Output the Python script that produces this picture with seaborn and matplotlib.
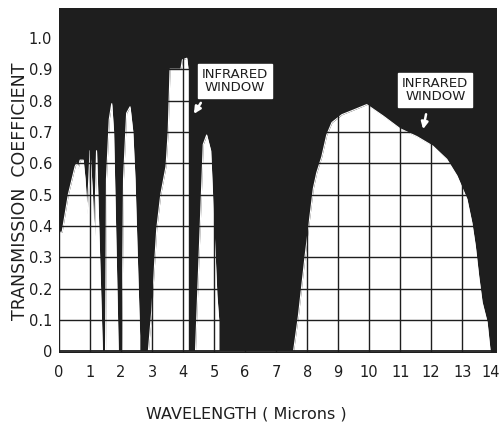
import matplotlib
matplotlib.use("Agg")
import matplotlib.pyplot as plt
import matplotlib.transforms as mtransforms
import seaborn as sns
import pandas as pd

# Traced transmission curve (wavelength in microns, transmission coefficient)
wavelength = [0.0, 0.1, 0.3, 0.52, 0.57, 0.62, 0.68, 0.78, 0.84, 0.91,
              1.0, 1.08, 1.14, 1.21, 1.40, 1.50, 1.53, 1.62, 1.70, 1.76,
              1.91, 2.02, 2.08, 2.18, 2.29, 2.38, 2.45, 2.60, 2.60,
              2.88, 2.99, 3.15, 3.28, 3.45, 3.52, 3.58, 3.93, 3.98, 4.12,
              4.16, 4.16, 4.40, 4.65, 4.76, 4.89, 5.09, 5.15, 5.15,
              7.56, 7.72, 7.94, 8.20, 8.31, 8.47, 8.63, 8.80, 9.12, 9.50,
              9.92, 10.46, 11.0, 11.54, 12.05, 12.50, 12.83, 13.15, 13.31,
              13.42, 13.53, 13.64, 13.80, 13.90]
transmission = [0.38, 0.38, 0.50, 0.59, 0.60, 0.585, 0.61, 0.61, 0.55, 0.44,
                0.64, 0.50, 0.35, 0.64, 0.0, 0.0, 0.55, 0.74, 0.79, 0.70,
                0.0, 0.0, 0.55, 0.76, 0.78, 0.70, 0.55, 0.05, 0.0,
                0.0, 0.13, 0.39, 0.50, 0.59, 0.70, 0.90, 0.90, 0.93, 0.935,
                0.90, 0.0, 0.0, 0.66, 0.69, 0.64, 0.18, 0.10, 0.0,
                0.0, 0.115, 0.31, 0.52, 0.57, 0.62, 0.69, 0.73, 0.755, 0.77,
                0.787, 0.75, 0.71, 0.685, 0.655, 0.613, 0.56, 0.486, 0.41,
                0.337, 0.24, 0.157, 0.094, 0.0]

x_ticks = list(range(0, 15))
x_tick_labels = [str(v) for v in x_ticks]
y_ticks = [0.0, 0.1, 0.2, 0.3, 0.4, 0.5, 0.6, 0.7, 0.8, 0.9, 1.0]
y_tick_labels = ["0", "0.1", "0.2", "0.3", "0.4", "0.5", "0.6", "0.7", "0.8", "0.9", "1.0"]

annotations = ["INFRARED\nWINDOW", "INFRARED\nWINDOW"]
annot_pos = [(5.67, 0.863), (12.13, 0.833)]
arrow_tail = [(4.62, 0.80), (11.85, 0.765)]
arrow_head = [(4.30, 0.75), (11.72, 0.700)]

df = pd.DataFrame({"wavelength": wavelength, "transmission": transmission})

sns.set_style("white")
plt.rcParams["font.family"] = ["DejaVu Sans"]

INK = "#1e1e1e"

fig = plt.figure(figsize=(5.0, 4.23), dpi=100)
ax = fig.add_axes([0.118, 0.1655, 0.876, 0.8155])
ax.set_facecolor(INK)

ax.fill_between(df["wavelength"], 0, df["transmission"], color="white", lw=0, zorder=1)
sns.lineplot(data=df, x="wavelength", y="transmission", sort=False, estimator=None,
             color="white", lw=0.8, ax=ax, zorder=2)

ax.set_xlim(0, 14.12)
ax.set_ylim(-0.005, 1.095)

for xv in x_ticks:
    ax.axvline(xv, color=INK, lw=1.0, zorder=3)
for yv in y_ticks[1:]:
    ax.axhline(yv, color=INK, lw=1.0, zorder=3)
ax.axhline(0, color=INK, lw=1.3, zorder=3)

ax.set_xticks(x_ticks)
ax.set_xticklabels(x_tick_labels, fontsize=10.5, color=INK)
ax.set_yticks(y_ticks)
ax.set_yticklabels(y_tick_labels, fontsize=10.5, color=INK)
ax.tick_params(axis="x", length=0, pad=9)
ax.tick_params(axis="y", length=0, pad=5)
for s in ax.spines.values():
    s.set_visible(False)

# nudge the last x tick label so it stays inside the canvas
last = ax.get_xticklabels()[-1]
last.set_transform(last.get_transform() +
                   mtransforms.ScaledTranslation(-3 / 100, 0, fig.dpi_scale_trans))

ax.set_xlabel("WAVELENGTH ( Microns )", fontsize=11.5, color=INK)
ax.xaxis.set_label_coords((246 - 59) / 438, -0.155)
ax.set_ylabel("TRANSMISSION  COEFFICIENT", fontsize=12.5, color=INK)
ax.yaxis.set_label_coords(-0.068, 0.47)

for txt, (tx, ty) in zip(annotations, annot_pos):
    ax.text(tx, ty, txt, ha="center", va="center", fontsize=9.5, color=INK,
            linespacing=1.0, zorder=5,
            bbox=dict(boxstyle="square,pad=0.3", facecolor="white", edgecolor="white"))
for (t0, t1), (h0, h1) in zip(arrow_tail, arrow_head):
    ax.annotate("", xy=(h0, h1), xytext=(t0, t1), zorder=5,
                arrowprops=dict(arrowstyle="-|>", color="white", lw=1.8, mutation_scale=10))

if ax.get_legend() is not None:
    ax.get_legend().remove()
fig.savefig("out.png", dpi=100, facecolor="white")
